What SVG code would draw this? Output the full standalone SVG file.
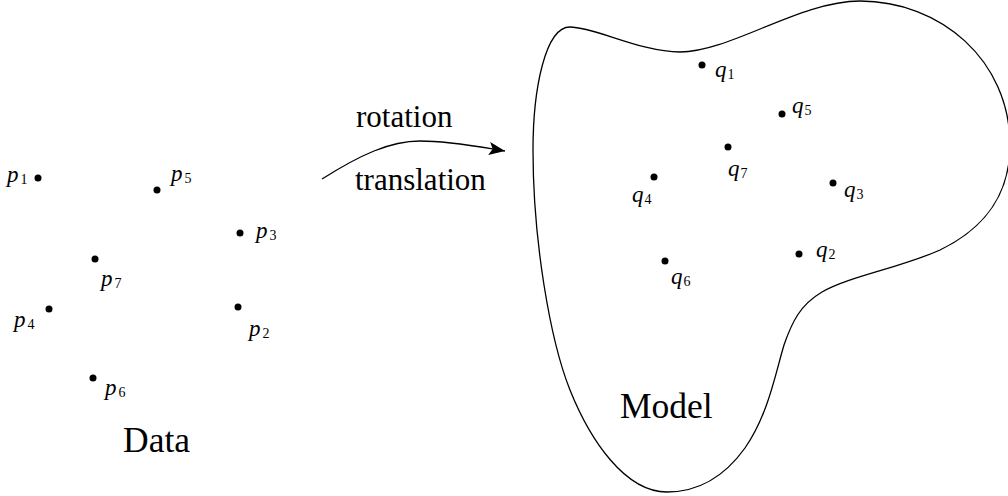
<svg xmlns="http://www.w3.org/2000/svg" width="1008" height="496" viewBox="0 0 1008 496">
<style>
.dot{fill:#000}
.lbl{font-family:"Liberation Serif","Times New Roman",serif;font-style:italic;font-size:23px;fill:#000}
.sub{font-style:normal;font-size:14px}
.big{font-family:"Liberation Serif","Times New Roman",serif;font-size:35.5px;fill:#000}
.mid{font-family:"Liberation Serif","Times New Roman",serif;font-size:31px;fill:#000}
.line{fill:none;stroke:#000;stroke-width:1.3}
</style>
<defs>
<marker id="arr" markerWidth="17" markerHeight="13" refX="16" refY="6.5" orient="auto" markerUnits="userSpaceOnUse">
<path d="M0,0 L16,6.5 L0,13 L3.5,6.5 Z" fill="#000"/>
</marker>
</defs>
<g id="model">
<path class="line" d="M570,27 C595,27 640,52 680,52 C730,52 800,1 860,1 C940,1 1010,60 1010,145 C1010,195 985,228 940,250 C900,268 850,276 822,292 C800,305 792,322 784,345 C775,375 768,415 745,448 C722,480 695,492 667,492 C625,492 590,440 570,390 C550,340 533,240 533,150 C533,90 545,27 570,27 Z"/>
<text class="big" x="620" y="418">Model</text>
</g>
<g id="data-label"><text class="big" x="123" y="452">Data</text></g>
<g id="p1"><circle class="dot" cx="38" cy="178" r="3.5"/><text class="lbl" x="7" y="182">p<tspan class="sub" dx="2" dy="2">1</tspan></text></g>
<g id="p5"><circle class="dot" cx="157" cy="190" r="3.5"/><text class="lbl" x="171" y="181">p<tspan class="sub" dx="2" dy="2">5</tspan></text></g>
<g id="p3"><circle class="dot" cx="240" cy="233" r="3.5"/><text class="lbl" x="256" y="238">p<tspan class="sub" dx="2" dy="2">3</tspan></text></g>
<g id="p7"><circle class="dot" cx="95" cy="259" r="3.5"/><text class="lbl" x="101" y="286">p<tspan class="sub" dx="2" dy="2">7</tspan></text></g>
<g id="p4"><circle class="dot" cx="49" cy="309" r="3.5"/><text class="lbl" x="14" y="327">p<tspan class="sub" dx="2" dy="2">4</tspan></text></g>
<g id="p2"><circle class="dot" cx="238" cy="307" r="3.5"/><text class="lbl" x="249" y="336">p<tspan class="sub" dx="2" dy="2">2</tspan></text></g>
<g id="p6"><circle class="dot" cx="93" cy="378" r="3.5"/><text class="lbl" x="105" y="395">p<tspan class="sub" dx="2" dy="2">6</tspan></text></g>
<g id="q1"><circle class="dot" cx="702" cy="65" r="3.5"/><text class="lbl" x="715" y="77">q<tspan class="sub" dx="1" dy="2">1</tspan></text></g>
<g id="q5"><circle class="dot" cx="782" cy="114" r="3.5"/><text class="lbl" x="792" y="113">q<tspan class="sub" dx="1" dy="2">5</tspan></text></g>
<g id="q7"><circle class="dot" cx="728" cy="147" r="3.5"/><text class="lbl" x="728" y="176">q<tspan class="sub" dx="1" dy="2">7</tspan></text></g>
<g id="q4"><circle class="dot" cx="654" cy="177" r="3.5"/><text class="lbl" x="632" y="202">q<tspan class="sub" dx="1" dy="2">4</tspan></text></g>
<g id="q3"><circle class="dot" cx="833" cy="183" r="3.5"/><text class="lbl" x="844" y="197">q<tspan class="sub" dx="1" dy="2">3</tspan></text></g>
<g id="q2"><circle class="dot" cx="799" cy="254" r="3.5"/><text class="lbl" x="816" y="257">q<tspan class="sub" dx="1" dy="2">2</tspan></text></g>
<g id="q6"><circle class="dot" cx="665" cy="261" r="3.5"/><text class="lbl" x="671" y="284">q<tspan class="sub" dx="1" dy="2">6</tspan></text></g>
<g id="connectors">
<path class="line" stroke-width="2" d="M322,179 C360,155 390,141 420,141 C450,141 480,147 505,151" marker-end="url(#arr)"/>
</g>
<g id="arrow-labels">
<text class="mid" x="356" y="127">rotation</text>
<text class="mid" x="355" y="190">translation</text>
</g>
</svg>
